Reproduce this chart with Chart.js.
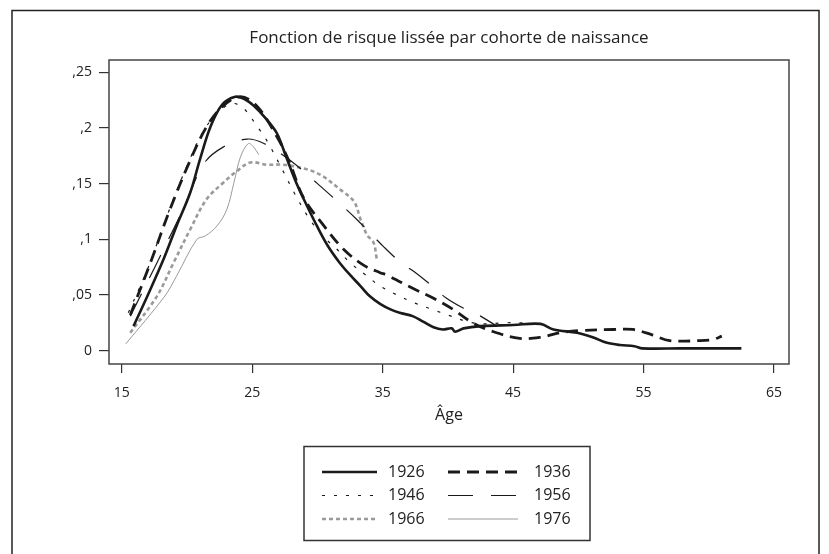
<!DOCTYPE html>
<html lang="fr">
<head>
    <meta charset="UTF-8">
    <title>Fonction de risque lissée par cohorte de naissance</title>
    <script src="https://cdn.jsdelivr.net/npm/chart.js@4.4.1/dist/chart.umd.min.js"></script>
    <style>
        body { margin: 0; padding: 0; background: #fff; }
        #wrap { width: 829px; height: 554px; }
    </style>
</head>
<body>
    <div id="wrap"><canvas id="hazardChart" width="829" height="554"></canvas></div>

    <script>
        // --- data ---
        const chartTitle = 'Fonction de risque lissée par cohorte de naissance';
        const cohorts = ['1926', '1936', '1946', '1956', '1966', '1976'];
        const xTicks = [15, 25, 35, 45, 55, 65];
        const yTicks = [0, 0.05, 0.10, 0.15, 0.20, 0.25];

        const age1926 = [15.9, 17.0, 18.2, 19.2, 20.25, 21.0, 21.8, 22.7, 23.7, 24.4, 25.1, 26.0, 26.9, 27.6, 28.4, 29.2, 29.96, 30.8, 31.7, 32.5, 33.3, 34.0, 34.8, 35.6, 36.3, 37.3, 38.1, 38.9, 39.6, 40.3, 40.55, 41.2, 42.5, 45.0, 47.1, 48.1, 49.9, 51.1, 52.2, 53.2, 54.3, 54.9, 57.8, 62.5];
        const val1926 = [0.022, 0.050, 0.082, 0.112, 0.142, 0.172, 0.201, 0.221, 0.228, 0.226, 0.220, 0.209, 0.195, 0.174, 0.150, 0.130, 0.112, 0.094, 0.079, 0.068, 0.058, 0.049, 0.042, 0.037, 0.034, 0.031, 0.026, 0.021, 0.019, 0.020, 0.017, 0.020, 0.022, 0.023, 0.024, 0.019, 0.016, 0.012, 0.007, 0.005, 0.004, 0.002, 0.002, 0.002];

        const age1936 = [15.65, 17.2, 18.7, 20.25, 21.5, 22.7, 24.1, 25.4, 26.9, 27.9, 28.9, 30.5, 32.0, 33.5, 34.8, 35.3, 37.3, 38.9, 40.4, 41.9, 43.5, 45.5, 47.1, 48.6, 50.1, 52.7, 54.2, 55.7, 57.0, 59.3, 60.3, 61.0];
        const val1936 = [0.032, 0.079, 0.127, 0.171, 0.201, 0.219, 0.228, 0.219, 0.192, 0.168, 0.138, 0.112, 0.091, 0.077, 0.070, 0.068, 0.056, 0.047, 0.037, 0.025, 0.017, 0.011, 0.012, 0.016, 0.018, 0.019, 0.019, 0.014, 0.009, 0.009, 0.010, 0.013];

        const age1946 = [15.5, 17.0, 18.5, 20.0, 21.3, 22.4, 23.4, 24.3, 25.4, 26.1, 27.2, 28.3, 29.4, 30.5, 31.5, 32.5, 33.8, 34.8, 36.1, 37.4, 38.8, 40.0, 41.5, 42.7, 44.4, 45.8];
        const val1946 = [0.034, 0.074, 0.122, 0.166, 0.198, 0.214, 0.222, 0.218, 0.201, 0.189, 0.165, 0.140, 0.118, 0.102, 0.091, 0.079, 0.067, 0.058, 0.050, 0.043, 0.037, 0.032, 0.026, 0.024, 0.025, 0.025];

        const age1956 = [15.65, 17.7, 19.7, 21.3, 22.8, 24.6, 25.9, 27.9, 30.0, 32.0, 33.0, 35.1, 36.3, 37.4, 38.8, 39.9, 41.2, 42.5, 43.75];
        const val1956 = [0.031, 0.079, 0.127, 0.168, 0.183, 0.190, 0.186, 0.171, 0.150, 0.129, 0.118, 0.093, 0.080, 0.071, 0.058, 0.047, 0.038, 0.031, 0.022];

        const age1966 = [15.65, 17.7, 18.97, 20.25, 21.5, 22.8, 23.8, 24.85, 26.1, 27.4, 28.4, 29.45, 30.5, 31.7, 32.8, 33.3, 33.8, 34.3, 34.55];
        const val1966 = [0.016, 0.049, 0.079, 0.109, 0.136, 0.151, 0.161, 0.169, 0.167, 0.167, 0.165, 0.162, 0.156, 0.145, 0.134, 0.118, 0.104, 0.097, 0.082];

        const age1976 = [15.3, 18.3, 19.2, 20.76, 21.4, 22.3, 23.06, 23.6, 24.1, 24.7, 25.1, 25.5];
        const val1976 = [0.006, 0.049, 0.067, 0.100, 0.103, 0.112, 0.127, 0.151, 0.174, 0.186, 0.183, 0.176];

        const ages = [age1926, age1936, age1946, age1956, age1966, age1976];
        const values = [val1926, val1936, val1946, val1956, val1966, val1976];

        // line looks per cohort
        const styles = [
            { color: '#1a1a1a', width: 2.6, dash: [] },
            { color: '#1a1a1a', width: 2.8, dash: [12, 7] },
            { color: '#1a1a1a', width: 1.2, dash: [3, 9] },
            { color: '#1a1a1a', width: 1.2, dash: [25, 18] },
            { color: '#9a9a9a', width: 2.6, dash: [4, 3] },
            { color: '#9a9a9a', width: 1.0, dash: [] }
        ];

        const FONT = '"Open Sans", sans-serif';

        const datasets = cohorts.map((label, i) => ({
            label: label,
            data: ages[i].map((a, j) => ({ x: a, y: values[i][j] })),
            borderColor: styles[i].color,
            borderWidth: styles[i].width,
            borderDash: styles[i].dash,
            pointRadius: 0,
            fill: false,
            tension: 0.35
        }));

        // frame around plot area, outer figure border, title over the plot
        const framePlugin = {
            id: 'frame',
            beforeDraw(chart) {
                const ctx = chart.ctx;
                ctx.save();
                ctx.strokeStyle = '#222';
                ctx.lineWidth = 1.5;
                ctx.strokeRect(12, 10.5, 807, 600);
                const a = chart.chartArea;
                ctx.fillStyle = '#222';
                ctx.font = '17px ' + FONT;
                ctx.textAlign = 'center';
                ctx.textBaseline = 'middle';
                ctx.fillText(chartTitle, (a.left + a.right) / 2, 38);
                ctx.restore();
            },
            afterDatasetsDraw(chart) {
                const a = chart.chartArea;
                const ctx = chart.ctx;
                ctx.save();
                ctx.strokeStyle = '#444';
                ctx.lineWidth = 1.5;
                ctx.strokeRect(a.left, a.top, a.right - a.left, a.bottom - a.top);
                ctx.restore();
            }
        };

        // boxed two-column legend under the axis
        const boxLegend = {
            id: 'boxLegend',
            afterDraw(chart) {
                const ctx = chart.ctx;
                const bx = 304, by = 446.5, bw = 286, bh = 94;
                ctx.save();
                ctx.strokeStyle = '#333';
                ctx.lineWidth = 1.5;
                ctx.strokeRect(bx, by, bw, bh);
                const rows = [472, 495.5, 519];
                const cols = [
                    { x0: 322, x1: 377, tx: 388 },
                    { x0: 448, x1: 518, tx: 534 }
                ];
                ctx.font = '16px ' + FONT;
                ctx.textBaseline = 'middle';
                ctx.textAlign = 'left';
                chart.data.datasets.forEach((ds, i) => {
                    const c = cols[i % 2];
                    const y = rows[Math.floor(i / 2)];
                    ctx.beginPath();
                    ctx.strokeStyle = ds.borderColor;
                    ctx.lineWidth = ds.borderWidth;
                    ctx.setLineDash(ds.borderDash);
                    ctx.moveTo(c.x0, y);
                    ctx.lineTo(c.x1, y);
                    ctx.stroke();
                    ctx.setLineDash([]);
                    ctx.fillStyle = '#222';
                    ctx.fillText(ds.label, c.tx, y);
                });
                ctx.restore();
            }
        };

        const ctx = document.getElementById('hazardChart').getContext('2d');
        new Chart(ctx, {
            type: 'line',
            data: { datasets: datasets },
            options: {
                responsive: false,
                animation: false,
                layout: { padding: { left: 0, right: 40, top: 60, bottom: 120 } },
                plugins: {
                    legend: { display: false },
                    tooltip: { enabled: false },
                    title: { display: false }
                },
                scales: {
                    x: {
                        type: 'linear',
                        min: 14.02,
                        max: 66.15,
                        afterBuildTicks: s => { s.ticks = xTicks.map(v => ({ value: v })); },
                        afterFit: s => { s.height = 70; },
                        grid: { drawOnChartArea: false, drawTicks: true, tickLength: 9, color: '#333', lineWidth: 1.2 },
                        border: { display: false },
                        ticks: { color: '#222', font: { family: FONT, size: 14 }, padding: 12, maxRotation: 0 },
                        title: {
                            display: true,
                            text: 'Âge',
                            color: '#222',
                            font: { family: FONT, size: 16 },
                            padding: { top: 0, bottom: 9 }
                        }
                    },
                    y: {
                        min: -0.012,
                        max: 0.261,
                        afterBuildTicks: s => { s.ticks = yTicks.map(v => ({ value: v })); },
                        afterFit: s => { s.width = 109; },
                        grid: { drawOnChartArea: false, drawTicks: true, tickLength: 10, color: '#333', lineWidth: 1.2 },
                        border: { display: false },
                        ticks: {
                            color: '#222',
                            font: { family: FONT, size: 14 },
                            padding: 7,
                            callback: v => v === 0 ? '0' : ',' + parseFloat(v.toFixed(2)).toString().split('.')[1]
                        }
                    }
                }
            },
            plugins: [framePlugin, boxLegend]
        });
    </script>
</body>
</html>
